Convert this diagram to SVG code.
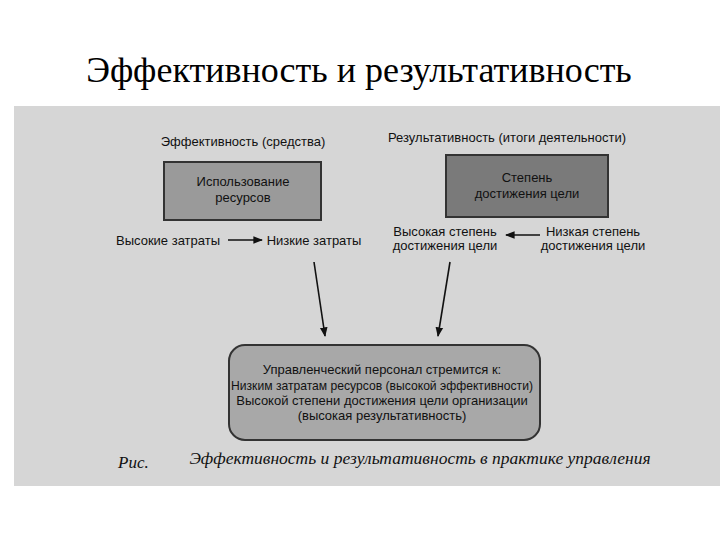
<svg xmlns="http://www.w3.org/2000/svg" width="720" height="540" viewBox="0 0 720 540">
<style>
.t{font-family:"Liberation Sans Narrow","Liberation Sans",Arial,sans-serif;font-size:13px;fill:#111;text-anchor:middle}
.c{stroke:#111;stroke-width:1.6;fill:none}
.box{stroke:#333;stroke-width:2}
</style>
<defs>
<marker id="ah" viewBox="0 0 10 10" refX="9" refY="5" markerWidth="6" markerHeight="6" orient="auto"><path d="M0,1 L10,5 L0,9 Z" fill="#111"/></marker>
</defs>
<rect width="720" height="540" fill="#fff"/>
<text x="359" y="82" style="font-family:'Liberation Serif',serif;font-size:36px;fill:#000;text-anchor:middle">Эффективность и результативность</text>
<rect x="14" y="106" width="706" height="380" fill="#d6d6d6"/>
<g id="n1">
<text class="t" x="243" y="146">Эффективность (средства)</text>
<rect class="box" x="164" y="162" width="157" height="58" fill="#9a9a9a"/>
<text class="t" x="243" y="186">Использование</text>
<text class="t" x="243" y="202">ресурсов</text>
</g>
<g id="n2">
<text class="t" x="507" y="142">Результативность (итоги деятельности)</text>
<rect class="box" x="446" y="155" width="162" height="62" fill="#7a7a7a"/>
<text class="t" x="527" y="182">Степень</text>
<text class="t" x="527" y="198">достижения цели</text>
</g>
<g id="n3"><text class="t" x="168" y="245">Высокие затраты</text></g>
<g id="n4"><text class="t" x="314" y="245">Низкие затраты</text></g>
<g id="n5"><text class="t" x="445" y="236">Высокая степень</text><text class="t" x="445" y="250">достижения цели</text></g>
<g id="n6"><text class="t" x="593" y="236">Низкая степень</text><text class="t" x="593" y="250">достижения цели</text></g>
<g id="n7">
<rect class="box" x="229" y="345" width="311" height="95" rx="16" fill="#a8a8a8"/>
<text class="t" x="382" y="374">Управленческий персонал стремится к:</text>
<text class="t" x="382" y="390" textLength="302" lengthAdjust="spacingAndGlyphs">Низким затратам ресурсов (высокой эффективности)</text>
<text class="t" x="382" y="405">Высокой степени достижения цели организации</text>
<text class="t" x="382" y="420">(высокая результативность)</text>
</g>
<g id="connectors">
<line class="c" x1="228" y1="240" x2="262" y2="240" marker-end="url(#ah)"/>
<line class="c" x1="540" y1="235" x2="506" y2="235" marker-end="url(#ah)"/>
<line class="c" x1="314" y1="262" x2="325" y2="336" marker-end="url(#ah)"/>
<line class="c" x1="450" y1="262" x2="438" y2="336" marker-end="url(#ah)"/>
</g>
<text x="118" y="468" style="font-family:'Liberation Serif',serif;font-style:italic;font-size:17px;fill:#111">Рис.</text>
<text x="420" y="464" style="font-family:'Liberation Serif',serif;font-style:italic;font-size:17.5px;fill:#111;text-anchor:middle">Эффективность и результативность в практике управления</text>
</svg>
